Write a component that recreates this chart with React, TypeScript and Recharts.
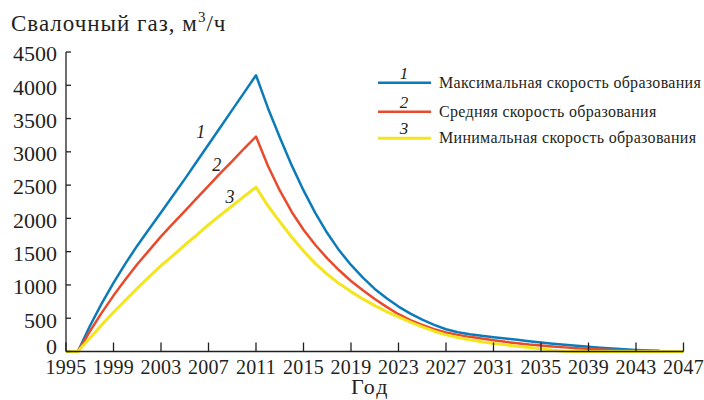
import { LineChart, Line, XAxis, YAxis, ReferenceDot } from 'recharts'

const years = [
  1995, 1996, 1997, 1998, 1999, 2000, 2001, 2002, 2003, 2004, 2005, 2006, 2007, 2008, 2009, 2010,
  2011, 2012, 2013, 2014, 2015, 2016, 2017, 2018, 2019, 2020, 2021, 2022, 2023, 2024, 2025, 2026,
  2027, 2028, 2029, 2030, 2031, 2032, 2033, 2034, 2035, 2036, 2037, 2038, 2039, 2040, 2041, 2042,
  2043, 2044, 2045, 2046, 2047,
]

// 1 — максимальная скорость
const maxRate = [
  0, 0, 380, 720, 1030, 1320, 1590, 1840, 2090, 2340, 2590, 2850, 3110, 3370, 3630, 3890,
  4150, 3660, 3220, 2800, 2420, 2080, 1780, 1520, 1300, 1110, 940, 800, 675, 570, 480, 400,
  335, 290, 260, 235, 215, 195, 175, 155, 135, 118, 100, 85, 72, 58, 45, 33,
  24, 16, 10, null, null,
]

// 2 — средняя скорость
const avgRate = [
  0, 0, 300, 580, 840, 1080, 1310, 1520, 1730, 1920, 2110, 2300, 2490, 2680, 2860, 3050,
  3230, 2790, 2420, 2100, 1830, 1600, 1400, 1220, 1060, 920, 790, 670, 560, 470, 400, 335,
  285, 250, 220, 195, 170, 145, 125, 105, 90, 75, 62, 50, 40, 30, 22, 15,
  10, 6, 3, 0, null,
]

// 3 — минимальная скорость
const minRate = [
  0, 0, 200, 400, 590, 770, 950, 1120, 1290, 1440, 1600, 1750, 1905, 2050, 2190, 2330,
  2470, 2190, 1950, 1720, 1510, 1320, 1160, 1020, 900, 790, 690, 600, 520, 440, 370, 305,
  250, 210, 175, 145, 120, 100, 80, 60, 40, 20, 5, 0, 0, 0, 0, 0,
  0, 0, 0, 0, 0,
]

const xTicks = [1995, 1999, 2003, 2007, 2011, 2015, 2019, 2023, 2027, 2031, 2035, 2039, 2043, 2047]
const yTicks = [0, 500, 1000, 1500, 2000, 2500, 3000, 3500, 4000, 4500]

const seriesNames = [
  'Максимальная скорость образования',
  'Средняя скорость образования',
  'Минимальная скорость образования',
]
const seriesKeys = ['max', 'avg', 'min']
const seriesNumbers = ['1', '2', '3']
const colors = ['#0b7cb9', '#ea4a2c', '#f3e61f']
const widths = [2.5, 2.5, 3]
const legendLineY = [82.7, 111.7, 138.3]

// где стоят курсивные номера у кривых (год, значение)
const curveLabelYears = [2006.35, 2007.7, 2008.8]
const curveLabelValues = [3310, 2815, 2325]

const FONT = 'Liberation Serif'
const INK = '#231f20'

const data = years.map((year, i) => ({
  year,
  max: maxRate[i],
  avg: avgRate[i],
  min: minRate[i],
}))

// подписи оси Y: ноль чуть приподнят, как в оригинале
function YTick({ x, y, payload }: any) {
  const shift = payload.value === 0 ? -5 : 1.5
  return (
    <text
      x={x}
      y={y + shift}
      dy="0.355em"
      textAnchor="end"
      fontFamily={FONT}
      fontSize={22}
      fill={INK}
    >
      {payload.value}
    </text>
  )
}

export default function App() {
  return (
    <div
      style={{
        position: 'absolute',
        left: 0,
        top: 0,
        width: 704,
        height: 400,
        background: '#fff',
        fontFamily: FONT,
      }}
    >
      <LineChart
        width={704}
        height={400}
        data={data}
        margin={{ top: 52, right: 20.5, bottom: 0, left: 0 }}
      >
        <XAxis
          dataKey="year"
          type="number"
          domain={[1995, 2047]}
          ticks={xTicks}
          height={48.5}
          tickSize={-9}
          tickMargin={17}
          axisLine={{ stroke: INK, strokeWidth: 1.3 }}
          tickLine={{ stroke: INK, strokeWidth: 1.3 }}
          tick={{ fill: INK, fontSize: 20, fontFamily: FONT, letterSpacing: 0.2 }}
          interval={0}
          label={{
            value: 'Год',
            position: 'insideBottom',
            offset: 6,
            dx: -4.5,
            fontFamily: FONT,
            fontSize: 22,
            letterSpacing: 2,
            fill: INK,
          }}
        />
        <YAxis
          type="number"
          domain={[0, 4500]}
          ticks={yTicks}
          width={66}
          tickSize={-5}
          tickMargin={14}
          axisLine={{ stroke: INK, strokeWidth: 1.3 }}
          tickLine={{ stroke: INK, strokeWidth: 1.3 }}
          tick={<YTick />}
          interval={0}
        />
        {seriesKeys.map((key, i) => (
          <Line
            key={key}
            type="linear"
            dataKey={key}
            stroke={colors[i]}
            strokeWidth={widths[i]}
            strokeLinejoin="round"
            dot={false}
            activeDot={false}
            isAnimationActive={false}
          />
        ))}
        {seriesNumbers.map((num, i) => (
          <ReferenceDot
            key={num}
            x={curveLabelYears[i]}
            y={curveLabelValues[i]}
            r={0}
            stroke="none"
            label={{
              value: num,
              position: 'center',
              fontFamily: FONT,
              fontSize: 18,
              fontStyle: 'italic',
              fill: INK,
            }}
          />
        ))}
      </LineChart>
      <svg width={704} height={400} style={{ position: 'absolute', left: 0, top: 0, pointerEvents: 'none' }}>
        <text x={11} y={31} fontFamily={FONT} fontSize={23} letterSpacing={1} fill={INK}>
          Свалочный газ, м
          <tspan dy={-9} fontSize={15}>3</tspan>
          <tspan dy={9}>/ч</tspan>
        </text>
        {seriesNames.map((name, i) => (
          <g key={name}>
            <text
              x={404}
              y={legendLineY[i] - 4}
              textAnchor="middle"
              fontFamily={FONT}
              fontStyle="italic"
              fontSize={17}
              fill={INK}
            >
              {seriesNumbers[i]}
            </text>
            <line
              x1={378}
              x2={431}
              y1={legendLineY[i]}
              y2={legendLineY[i]}
              stroke={colors[i]}
              strokeWidth={widths[i]}
            />
            <text
              x={439}
              y={legendLineY[i] + 5}
              fontFamily={FONT}
              fontSize={16}
              letterSpacing={0.3}
              fill={INK}
            >
              {name}
            </text>
          </g>
        ))}
      </svg>
    </div>
  )
}
